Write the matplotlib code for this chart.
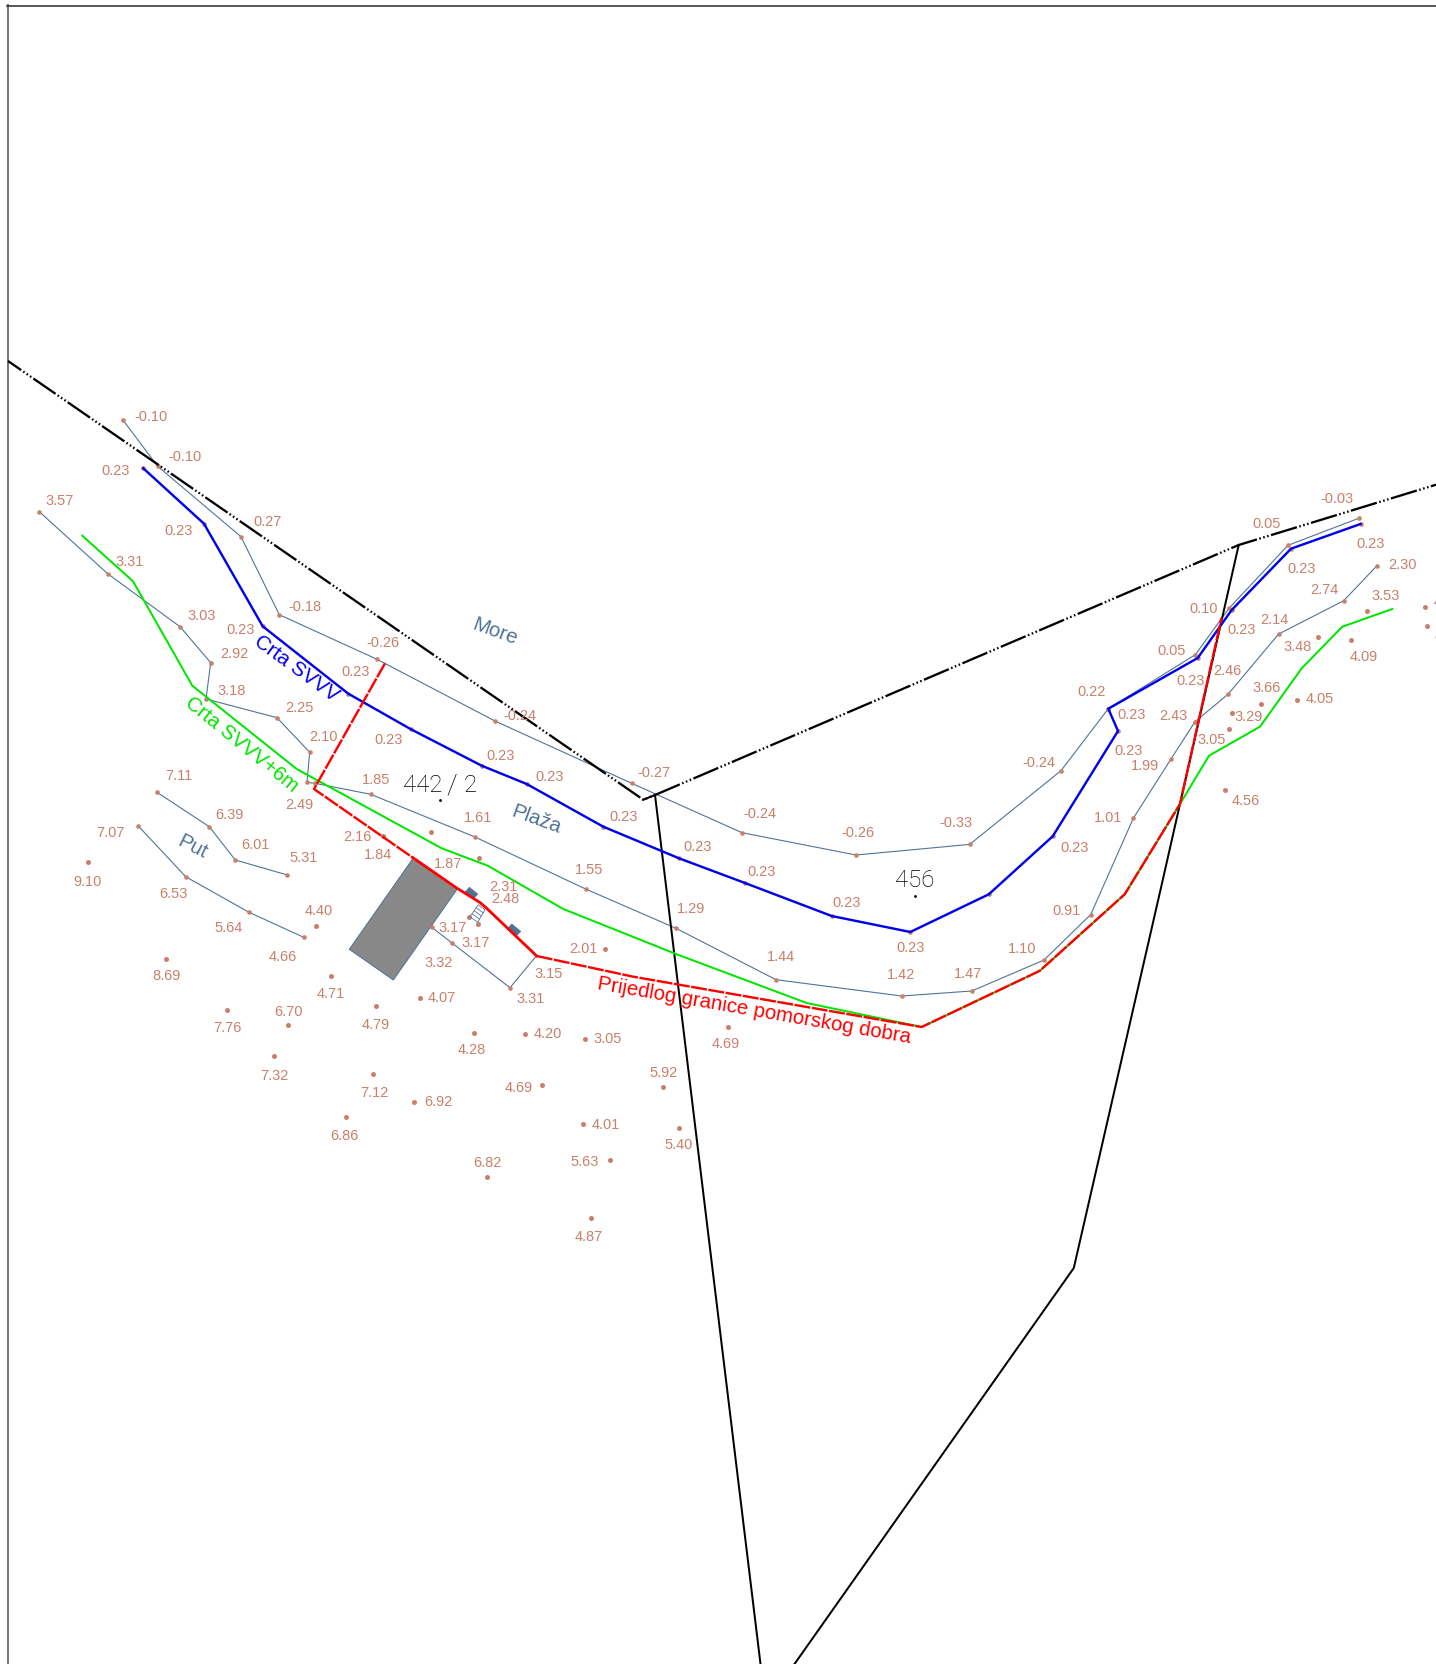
#!/usr/bin/env python3
import matplotlib
matplotlib.use("Agg")
import matplotlib.pyplot as plt
from matplotlib.patches import Polygon

W, H = 1436, 1665
DPI = 100
PX = 72 / DPI

LINE_BLUE = "#4f7298"
DOT = "#c8806a"
TEXT = "#c8806a"
plt.rcParams["font.family"] = ["Liberation Sans", "DejaVu Sans"]
plt.rcParams["lines.scale_dashes"] = False

# map geometry, pixel-like sheet coordinates
SEA_LEFT = [(8, 362), (643.3, 800.7), (655, 796)]
SEA_RIGHT = [(655, 796), (1238.7, 546), (1436, 485.7)]
PARCEL_A = [(655, 796), (704, 1200), (760.5, 1665)]
PARCEL_B = [(1238.7, 546), (1160.7, 890), (1073.8, 1269), (794.5, 1665)]

SHORE = [(122.7, 420.7), (157.7, 467.3), (241, 537.7), (279.3, 615.7), (377, 660.3),
         (495, 722), (631.7, 784.3), (742, 833.7), (856, 856), (969.7, 845.4),
         (1061, 771.7), (1108.3, 709.7), (1195.3, 655.7), (1229, 609.3), (1288, 546.3),
         (1358.7, 519.3)]
BEACH = [(39.3, 512.7), (107.7, 574.7), (180, 627.7), (210.7, 663.7), (206, 700),
         (277, 718.7), (309.7, 753.3), (307, 783.3), (315, 784.3), (370.7, 795.3),
         (475, 838), (586.3, 890.3), (676, 929.3), (776, 980.7), (901.7, 997),
         (971.8, 992), (1044, 961), (1090.8, 915.5), (1133.3, 819.3), (1171, 760),
         (1195, 722.7), (1228, 695.3), (1278.7, 635), (1343.7, 601.7), (1376.7, 567)]
ROAD_A = [(157, 793.3), (209.3, 827.7), (235.3, 861), (287.3, 876)]
ROAD_B = [(138.3, 827), (185.7, 877.7), (249, 913.3), (303.7, 938.3)]
YARD = [(431.7, 928.3), (451.7, 943.7), (510, 988.7), (536, 957.3)]

SVVV = [(143.3, 469.3), (204, 524.7), (262.7, 627.3), (348.3, 694.7), (411, 730.3),
        (481.7, 766.7), (526.7, 785), (603.3, 827.7), (679, 859.3), (745, 884),
        (831.7, 917), (910.3, 933), (988.8, 895.3), (1052.7, 837.3), (1118, 732),
        (1108.3, 709.7), (1197.7, 659), (1231.7, 611), (1291, 549.7), (1360.5, 525)]
SVVV_6M = [(82.3, 536.7), (133, 582.3), (192.3, 686.7), (296.7, 770), (441.7, 849.3),
           (487.7, 866.7), (563.3, 910), (676.7, 955.3), (806.7, 1004), (921.7, 1028),
           (1039.8, 971.8), (1124.7, 895.3), (1180, 805), (1209, 756.7), (1260, 727.7),
           (1301.7, 669.3), (1342.3, 627.7), (1392.3, 610)]
BORDER_A = [(385, 664.3), (314, 790), (413.3, 859)]
BORDER_B = [(413.3, 859), (456.7, 889), (480, 903.5), (486.7, 909.3), (536.7, 957)]
BORDER_C = [(536.7, 957), (633.3, 977.7), (921.7, 1028), (1039.8, 971.8), (1124.7, 895.3),
            (1180, 805), (1221.5, 619)]

HOUSE = [(413.3, 859), (457.3, 890), (393.3, 981), (349.3, 950.3)]
PIER_A = [(465, 893.3), (469.3, 888.3), (477.7, 895), (473.3, 900)]
PIER_B = [(507.3, 930), (511.7, 925), (520.7, 932.3), (516, 937.3)]
STAIR = [(478.3, 905.7), (485, 910.7), (477.7, 923.3), (470, 917.7)]

SPOTS = [(431, 832.7), (382.7, 837.3), (479.3, 858.7), (88, 863), (315.7, 926.7),
         (166.3, 960), (331, 976.7), (420, 999.3), (375.7, 1007), (226.7, 1010.7),
         (288, 1026.3), (474, 1034), (525.3, 1034.7), (274.3, 1057), (373, 1074.7),
         (414, 1102.7), (345.7, 1117.7), (487.3, 1177.7), (468.7, 917.7), (477.7, 925),
         (605, 950), (584.7, 1040), (727.7, 1027.7), (663, 1088.3), (542, 1085.7),
         (583.3, 1125), (678.7, 1129.3), (610, 1161), (590.5, 1219), (1232, 713.7),
         (1260.7, 705), (1228.7, 729.7), (1297, 701.3), (1225, 791.3), (1317.7, 638),
         (1351, 640.7), (1367.3, 612.3), (1425, 607.7), (1426.7, 626.7)]

HEIGHTS = [("-0.10", 151, 416.7), ("-0.10", 185, 456.7), ("0.23", 115.7, 470.7), ("3.57", 59.3, 501),
           ("0.27", 267.3, 522.3), ("0.23", 179, 531), ("3.31", 129.7, 562), ("3.03", 201.7, 616),
           ("-0.18", 305, 607.3), ("0.23", 240.7, 630.3), ("2.92", 234.3, 654.3), ("-0.26", 383, 643),
           ("0.23", 355.7, 672.3), ("3.18", 231.3, 690.7), ("2.25", 299.3, 708), ("2.10", 323.7, 737.3),
           ("0.23", 388.3, 740), ("1.85", 375.7, 779.7), ("7.11", 178.7, 776.3), ("2.49", 299.3, 805),
           ("6.39", 229, 814.7), ("7.07", 110.3, 832.7), ("2.16", 357.3, 837), ("6.01", 255.3, 845.3),
           ("1.84", 377.7, 855.3), ("1.61", 478.3, 818.3), ("5.31", 303.3, 858.3), ("9.10", 87.3, 882),
           ("6.53", 173.7, 894.3), ("1.87", 448, 864.3), ("2.31", 503, 886.7), ("2.48", 505, 899),
           ("3.17", 452.3, 927.7), ("3.17", 475.3, 943), ("4.40", 318.3, 911), ("5.64", 229, 928.3),
           ("4.66", 282.3, 957.3), ("3.32", 439, 963), ("8.69", 166.3, 976), ("4.71", 331, 993.7),
           ("4.07", 441.7, 998), ("3.31", 531, 999.3), ("6.70", 288, 1011.7), ("7.76", 227.7, 1028),
           ("4.79", 375.3, 1025.3), ("4.28", 471.3, 1050.3), ("7.32", 274.3, 1076), ("7.12", 374.7, 1093.3),
           ("6.92", 438.3, 1101.7), ("4.69", 518.3, 1088), ("6.86", 344, 1136.3), ("6.82", 487.7, 1162.7),
           ("0.23", 501, 755.7), ("0.23", 550, 777.3), ("-0.27", 654, 773.3), ("0.23", 624, 817.3),
           ("-0.24", 760, 813.7), ("-0.26", 858.3, 833.3), ("0.23", 698, 847.3), ("1.55", 589, 870),
           ("0.23", 761.7, 871.7), ("0.23", 847, 902.7), ("1.29", 690.7, 909.3), ("2.01", 583.7, 949.3),
           ("1.44", 781, 957.3), ("0.23", 910.3, 948), ("1.42", 901.3, 974.7), ("3.15", 549, 974),
           ("4.20", 547.7, 1034.3), ("3.05", 607.3, 1039.3), ("4.69", 726, 1044.3), ("5.92", 663.3, 1073),
           ("4.01", 606, 1124.7), ("5.40", 678.7, 1145), ("5.63", 584.3, 1162.3), ("4.87", 588.4, 1237.3),
           ("-0.24", 519.4, 716), ("-0.33", 956, 823), ("1.47", 967.6, 974), ("1.10", 1021.7, 949.5),
           ("0.91", 1066.3, 911.3), ("0.23", 1074.7, 847.7), ("-0.24", 1039, 762.7), ("1.01", 1107.7, 817.7),
           ("1.99", 1145.3, 766.3), ("0.23", 1128.3, 751), ("0.23", 1131.3, 714.7), ("0.22", 1092, 692.3),
           ("2.43", 1173.3, 715.7), ("3.05", 1212, 740.3), ("3.29", 1248.7, 717.3), ("3.66", 1267, 687.7),
           ("4.05", 1319.3, 699), ("4.56", 1246, 801.3), ("0.23", 1190.7, 680.7), ("2.46", 1227, 671),
           ("0.05", 1171.7, 651.3), ("3.48", 1298, 646.7), ("4.09", 1363.3, 657.3), ("2.14", 1274, 619.7),
           ("0.10", 1204, 609), ("0.23", 1242, 630.3), ("2.74", 1324.3, 590.3), ("3.53", 1386, 596),
           ("2.30", 1402.3, 565.3), ("0.23", 1301.7, 569), ("0.23", 1370.7, 543.7), ("0.05", 1267, 524),
           ("-0.03", 1337, 499), ("4.11", 1447, 602), ("4.35", 1449, 636)]


def xy(points):
    return [p[0] for p in points], [p[1] for p in points]


def main():
    fig = plt.figure(figsize=(W / DPI, H / DPI), dpi=DPI)
    ax = fig.add_axes([0, 0, 1, 1])
    ax.set_xlim(0, W)
    ax.set_ylim(H, 0)
    ax.axis("off")

    # sheet frame
    ax.plot([8, 8], [H, 6], color="#777777", lw=2.0 * PX)
    ax.plot([7, W], [6.5, 6.5], color="#333333", lw=1.6 * PX)

    # survey lines
    for line in (SHORE, BEACH, ROAD_A, ROAD_B, YARD):
        ax.plot(*xy(line), color=LINE_BLUE, lw=1.1 * PX, zorder=2)
        ax.scatter(*xy(line[:-1] if line is YARD else line), s=11, color=DOT, lw=0, zorder=3)
    ax.scatter(*xy(SVVV), s=11, color=DOT, lw=0, zorder=3)
    ax.scatter(*xy(SPOTS), s=13, color=DOT, lw=0, zorder=3)

    # house and small objects
    ax.add_patch(Polygon(HOUSE, closed=True, fc="#888888", ec=LINE_BLUE, lw=1 * PX, zorder=2))
    for pier in (PIER_A, PIER_B):
        ax.add_patch(Polygon(pier, closed=True, fc=LINE_BLUE, ec=LINE_BLUE, lw=0.5, zorder=4))
    ax.add_patch(Polygon(STAIR, closed=True, fc="none", ec=LINE_BLUE, lw=0.8 * PX, zorder=3))
    for i in range(1, 4):
        t = i / 4
        x0 = STAIR[0][0] + (STAIR[3][0] - STAIR[0][0]) * t
        y0 = STAIR[0][1] + (STAIR[3][1] - STAIR[0][1]) * t
        x1 = STAIR[1][0] + (STAIR[2][0] - STAIR[1][0]) * t
        y1 = STAIR[1][1] + (STAIR[2][1] - STAIR[1][1]) * t
        ax.plot([x0, x1], [y0, y1], color=LINE_BLUE, lw=0.8 * PX, zorder=3)

    # parcel borders
    pattern = tuple(v * PX for v in (27, 2.5, 1.6, 2.5, 1.6, 2.5, 1.6, 2.5))
    ax.plot(*xy(SEA_LEFT), color="black", lw=2.3 * PX, ls=(11 * PX, pattern), dash_capstyle="butt", zorder=4)
    ax.plot(*xy(SEA_LEFT[-2:]), color="black", lw=2.0 * PX, zorder=4)
    ax.plot(*xy(SEA_RIGHT), color="black", lw=2.3 * PX, ls=(0, pattern), dash_capstyle="butt", zorder=4)
    ax.plot(*xy(PARCEL_A), color="black", lw=2.0 * PX, zorder=4)
    ax.plot(*xy(PARCEL_B), color="black", lw=2.0 * PX, zorder=4)

    ax.plot(*xy(SVVV_6M), color="#00e600", lw=2.0 * PX, zorder=5)
    ax.plot(*xy(SVVV), color="#0000ee", lw=2.4 * PX, zorder=5)
    red_dash = (0, tuple(v * PX for v in (16, 1.5)))
    ax.plot(*xy(BORDER_A), color="#ff0000", lw=2.4 * PX, ls=red_dash, dash_capstyle="butt", zorder=6)
    ax.plot(*xy(BORDER_B), color="#ff0000", lw=2.8 * PX, zorder=6)
    ax.plot(*xy(BORDER_C), color="#ff0000", lw=2.4 * PX, ls=red_dash, dash_capstyle="butt", zorder=6)

    # spot heights
    for text, x, y in HEIGHTS:
        ax.text(x, y, text, color=TEXT, fontsize=14.5 * PX, ha="center", va="center", zorder=7, clip_on=True)

    # names
    named = dict(ha="center", va="center", rotation_mode="anchor", zorder=7, fontsize=20.5 * PX)
    ax.text(495, 632, "More", color=LINE_BLUE, rotation=-20, **named)
    ax.text(536.7, 820, "Plaža", color=LINE_BLUE, rotation=-20, **named)
    ax.text(192.7, 846.7, "Put", color=LINE_BLUE, rotation=-27, **named)
    ax.text(296, 669, "Crta SVVV", color="#0000ee", rotation=-36, **named)
    ax.text(241.7, 745, "Crta SVVV+6m", color="#00e600", rotation=-39, **named)
    ax.text(754, 1010.7, "Prijedlog granice pomorskog dobra", color="#ff0000", rotation=-9.8, **named)

    # parcel numbers, spaced out like the original lettering
    thin = dict(color="black", family="Roboto", weight="light", ha="center", va="center", zorder=7)
    ax.text(423, 786, "442", fontsize=24 * PX, **thin)
    ax.text(451.7, 786, "/", fontsize=28 * PX, **thin)
    ax.text(469.7, 786, "2", fontsize=24 * PX, **thin)
    ax.text(914.7, 881, "456", fontsize=24 * PX, **thin)
    ax.scatter([440, 914.7], [801.3, 897], s=4, color="black", lw=0, zorder=7)

    fig.savefig("out.png", dpi=DPI, facecolor="white")
    plt.close(fig)


if __name__ == "__main__":
    main()
